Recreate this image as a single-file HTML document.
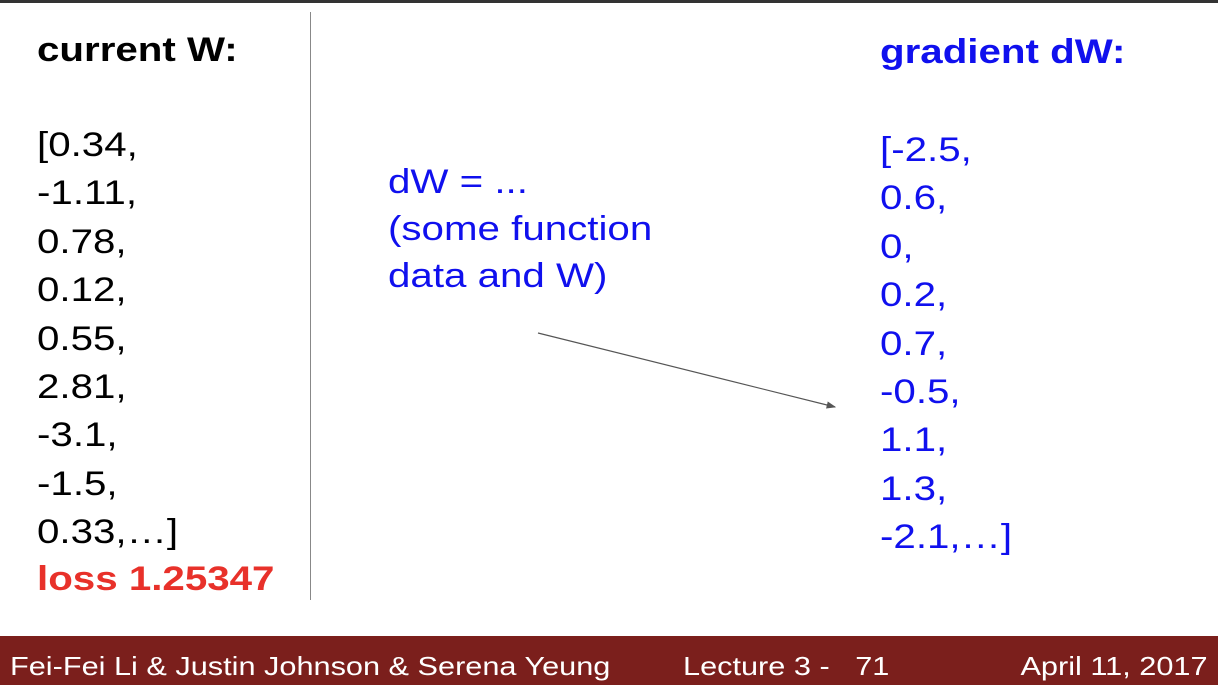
<!DOCTYPE html>
<html><head><meta charset="utf-8"><style>
html,body{margin:0;padding:0}
body{width:1218px;height:685px;position:relative;background:#fff;overflow:hidden;font-family:"Liberation Sans",Arial,sans-serif}
.t{position:absolute;white-space:nowrap;font-size:34px;line-height:48.4px;transform:scaleX(1.185);transform-origin:0 0}
.b{font-weight:bold}
.blue{color:#1010ee}
.f{position:absolute;top:650px;font-size:26px;line-height:32px;color:#fff;white-space:pre;transform:scaleX(1.18);transform-origin:0 0}
</style></head><body>
<div style="position:absolute;left:0;top:0;width:1218px;height:3px;background:#333"></div>

<div class="t b" style="left:37px;top:26px">current W:</div>
<div class="t" style="left:37px;top:121px">[0.34,<br>-1.11,<br>0.78,<br>0.12,<br>0.55,<br>2.81,<br>-3.1,<br>-1.5,<br>0.33,…]</div>
<div class="t b" style="left:37px;top:555px;color:#e8312a">loss 1.25347</div>

<div style="position:absolute;left:310px;top:12px;width:1px;height:588px;background:#888"></div>

<div class="t blue" style="left:388px;top:159px;line-height:47px">dW = ...<br>(some function<br>data and W)</div>

<div class="t b blue" style="left:880px;top:28px">gradient dW:</div>
<div class="t blue" style="left:880px;top:126px">[-2.5,<br>0.6,<br>0,<br>0.2,<br>0.7,<br>-0.5,<br>1.1,<br>1.3,<br>-2.1,…]</div>

<svg style="position:absolute;left:0;top:0" width="1218" height="685">
<defs><marker id="ah" markerWidth="8" markerHeight="6" refX="7" refY="3" orient="auto"><path d="M0,0 L8,3 L0,6 z" fill="#555"/></marker></defs>
<line x1="538" y1="333" x2="835" y2="407" stroke="#555" stroke-width="1.2" marker-end="url(#ah)"/>
</svg>

<div style="position:absolute;left:0;top:636px;width:1218px;height:49px;background:#7b1f1c"></div>
<div class="f" style="left:10px">Fei-Fei Li &amp; Justin Johnson &amp; Serena Yeung</div>
<div class="f" style="left:683px">Lecture 3 -   71</div>
<div class="f" style="right:10px;transform-origin:100% 0">April 11, 2017</div>
</body></html>
